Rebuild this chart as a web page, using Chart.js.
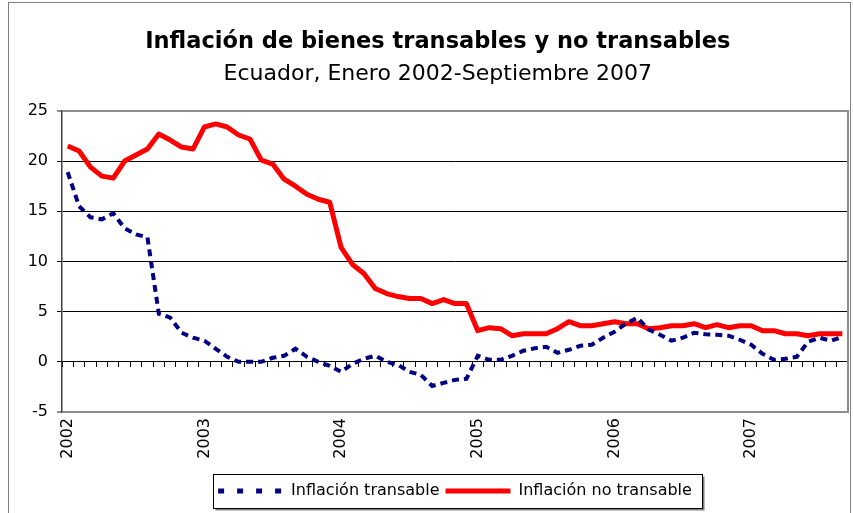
<!DOCTYPE html>
<html><head><meta charset="utf-8">
<script src="https://cdn.jsdelivr.net/npm/chart.js@4.4.1/dist/chart.umd.min.js"></script>
<style>html,body{margin:0;padding:0;background:#fff}#wrap{width:853px;height:513px;position:relative}</style>
</head><body><div id="wrap"><canvas id="c" width="853" height="513"></canvas></div>
<script>
// ---- data ----
const monthNames = ['Ene','Feb','Mar','Abr','May','Jun','Jul','Ago','Sep','Oct','Nov','Dic'];
const years = ['2002','2003','2004','2005','2006','2007'];
const categories = [];
for (const y of years) for (const m of monthNames) categories.push(m + ' ' + y);
categories.splice(69); // Enero 2002 - Septiembre 2007
const yearTickLabels = ['2002','2003','2004','2005','2006','2007'];
const yTicks = [-5, 0, 5, 10, 15, 20, 25];

const tradable = [
  18.9, 15.5, 14.4, 14.2, 14.8, 13.3, 12.7, 12.4, 4.8, 4.4, 2.9, 2.4,
  2.1, 1.3, 0.5, 0.0, 0.0, 0.0, 0.4, 0.6, 1.3, 0.5, 0.0, -0.4,
  -1.0, -0.2, 0.3, 0.6, 0.0, -0.3, -1.0, -1.3, -2.4, -2.1, -1.8, -1.7,
  0.6, 0.2, 0.2, 0.6, 1.1, 1.35, 1.5, 0.9, 1.2, 1.6, 1.7, 2.4,
  3.0, 3.8, 4.4, 3.2, 2.7, 2.1, 2.4, 2.9, 2.75, 2.7, 2.6, 2.2,
  1.7, 0.8, 0.2, 0.3, 0.5, 2.0, 2.4, 2.1, 2.5
];
const nonTradable = [
  21.5, 21.0, 19.4, 18.5, 18.3, 20.0, 20.6, 21.2, 22.7, 22.1, 21.4, 21.2,
  23.4, 23.7, 23.4, 22.6, 22.2, 20.1, 19.7, 18.2, 17.5, 16.7, 16.2, 15.9,
  11.4, 9.7, 8.8, 7.3, 6.8, 6.5, 6.3, 6.3, 5.8, 6.2, 5.8, 5.8,
  3.1, 3.4, 3.3, 2.6, 2.8, 2.8, 2.8, 3.3, 4.0, 3.6, 3.6, 3.8,
  4.0, 3.8, 3.8, 3.3, 3.4, 3.6, 3.6, 3.8, 3.4, 3.7, 3.4, 3.6,
  3.6, 3.1, 3.1, 2.8, 2.8, 2.6, 2.8, 2.8, 2.8
];

Chart.defaults.font.family = "'DejaVu Sans', sans-serif";
Chart.defaults.color = '#000';

const framePlugin = {
  id: 'frame',
  beforeDraw(chart) {
    const ctx = chart.ctx;
    ctx.save();
    ctx.fillStyle = '#fff';
    ctx.fillRect(0, 0, chart.width, chart.height);
    ctx.strokeStyle = '#808080';
    ctx.lineWidth = 1;
    ctx.strokeRect(8.5, 2.5, chart.width - 11, chart.height + 10);
    ctx.restore();
  }
};

const legendBoxPlugin = {
  id: 'legendBox',
  afterDraw(chart) {
    const lg = chart.legend;
    if (!lg || !lg.legendHitBoxes || !lg.legendHitBoxes.length) return;
    const hb = lg.legendHitBoxes;
    let l = Infinity, r = -Infinity, t = Infinity, b = -Infinity;
    hb.forEach(h => { l = Math.min(l, h.left); r = Math.max(r, h.left + h.width); t = Math.min(t, h.top); b = Math.max(b, h.top + h.height); });
    const ctx = chart.ctx;
    ctx.save();
    const x0 = Math.round(l - 5) + 0.5, x1 = Math.round(r + 10) + 0.5;
    const y0 = Math.round(t - 9) + 0.5, y1 = Math.round(b + 9) + 0.5;
    ctx.strokeStyle = '#808080';
    ctx.lineWidth = 2;
    ctx.beginPath();
    ctx.moveTo(x0 + 2, y1 + 1); ctx.lineTo(x1 + 1, y1 + 1); ctx.lineTo(x1 + 1, y0 + 2);
    ctx.stroke();
    ctx.strokeStyle = '#000';
    ctx.lineWidth = 1;
    ctx.strokeRect(x0, y0, x1 - x0, y1 - y0);
    ctx.restore();
  }
};

new Chart(document.getElementById('c'), {
  type: 'line',
  data: {
    labels: categories,
    datasets: [
      {
        label: 'Inflación transable',
        data: tradable,
        borderColor: '#000080',
        backgroundColor: '#000080',
        borderWidth: 4,
        borderDash: [7, 5],
        borderCapStyle: 'butt',
        pointRadius: 0,
        tension: 0,
        fill: false
      },
      {
        label: 'Inflación no transable',
        data: nonTradable,
        borderColor: '#ff0000',
        backgroundColor: '#ff0000',
        borderWidth: 5,
        borderJoinStyle: 'round',
        borderCapStyle: 'butt',
        pointRadius: 0,
        tension: 0,
        fill: false
      }
    ]
  },
  options: {
    responsive: false,
    animation: false,
    layout: { padding: { top: 10, left: 27.6, right: 5, bottom: 4 } },
    plugins: {
      title: {
        display: true,
        text: 'Inflación de bienes transables y no transables',
        font: { size: 22.5, weight: 'bold' },
        color: '#000',
        padding: { top: 19, bottom: 2 }
      },
      subtitle: {
        display: true,
        text: 'Ecuador, Enero 2002-Septiembre 2007',
        font: { size: 22, weight: 'normal' },
        color: '#000',
        padding: { top: 3, bottom: 23.5 }
      },
      legend: {
        position: 'bottom',
        fullSize: false,
        labels: {
          usePointStyle: true,
          pointStyle: 'line',
          pointStyleWidth: 65,
          padding: 6,
          font: { size: 16 },
          color: '#000',
          generateLabels(chart) {
            const items = Chart.defaults.plugins.legend.labels.generateLabels(chart);
            items.forEach(it => { it.pointStyle = 'line'; it.lineWidth = 5; it.lineCap = 'butt'; });
            if (items[0]) items[0].lineDash = [6, 13];
            return items;
          }
        }
      },
      tooltip: { enabled: false }
    },
    scales: {
      x: {
        type: 'category',
        offset: true,
        position: 'bottom',
        grid: { display: false, drawTicks: false },
        border: { display: false },
        ticks: {
          autoSkip: false,
          maxRotation: 90,
          minRotation: 90,
          padding: 6,
          font: { size: 16 },
          color: '#000',
          callback: (v, i) => (i % 12 === 0 ? yearTickLabels[i / 12] : '')
        },
        afterFit(scale) { scale.height = 65; scale.paddingLeft = 0; scale.paddingRight = 0; }
      },
      x0: {
        type: 'category',
        offset: true,
        position: { y: 0 },
        grid: { offset: true, drawOnChartArea: false, tickLength: 5, color: '#000', lineWidth: 1 },
        border: { color: '#000', width: 1 },
        ticks: { display: false },
        afterFit(scale) { scale.height = 0; scale.paddingLeft = 0; scale.paddingRight = 0; }
      },
      y: {
        min: -5,
        max: 25,
        afterBuildTicks(scale) { scale.ticks = yTicks.map(v => ({ value: v })); },
        ticks: { font: { size: 16 }, color: '#000', padding: 9 },
        grid: {
          color: c => (c.tick && (c.tick.value === 25 || c.tick.value === -5)) ? '#8c8c8c' : '#000',
          lineWidth: c => (c.tick && (c.tick.value === 25 || c.tick.value === -5)) ? 2 : 1,
          tickLength: 5
        },
        border: { color: '#404040', width: 1.5 },
        afterFit(scale) { scale.width = 34.4; }
      },
      y2: {
        position: 'right',
        min: -5,
        max: 25,
        ticks: { display: false },
        grid: { display: false, drawTicks: false },
        border: { color: '#8c8c8c', width: 2 },
        afterFit(scale) { scale.width = 0; }
      }
    }
  },
  plugins: [framePlugin, legendBoxPlugin]
});
</script>
</body></html>
